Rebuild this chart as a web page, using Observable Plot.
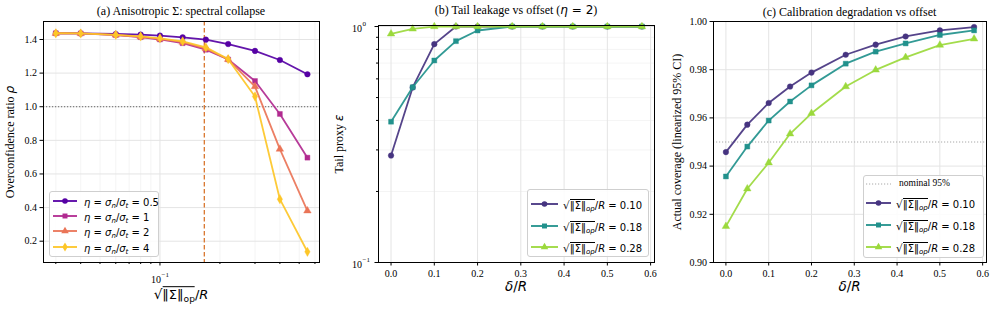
<!DOCTYPE html>
<html><head><meta charset="utf-8">
<script src="https://cdn.jsdelivr.net/npm/d3@7"></script>
<script src="https://cdn.jsdelivr.net/npm/@observablehq/plot@0.6"></script>
<style>
html,body{margin:0;padding:0;background:#fff;}
#wrap{position:relative;width:997px;height:312px;overflow:hidden;font-family:"Liberation Serif","Times New Roman",serif;color:#000;}
.panel{position:absolute;top:0;}
.t{position:absolute;transform:translate(-50%,-50%);white-space:nowrap;font-size:12px;line-height:1;}
.yl{transform:translate(-50%,-50%) rotate(-90deg);}
.m{font-family:"DejaVu Sans",sans-serif;color:#000;}
.m i{font-style:italic;}
sub{font-size:0.7em;vertical-align:-0.3em;line-height:0;}
.ov{border-top:1px solid #000;padding-top:0;}
.rad{font-size:1.05em;}
.leg{position:absolute;background:rgba(255,255,255,0.85);border:1px solid #cfcfcf;border-radius:3px;box-sizing:border-box;}
.row{position:absolute;transform:translateY(-50%);display:flex;align-items:center;white-space:nowrap;line-height:1;}
.row svg{display:block;}
</style></head>
<body><div id="wrap"></div>
<script>
// ---------- data ----------
const sigmaRatio = [0.03, 0.04, 0.06, 0.08, 0.1, 0.13, 0.17, 0.22, 0.3, 0.4, 0.55];
const etaLabels = ["0.5", "1", "2", "4"];
const rhoEta05 = [1.437, 1.436, 1.433, 1.429, 1.423, 1.413, 1.399, 1.373, 1.332, 1.278, 1.193];
const rhoEta1  = [1.437, 1.436, 1.426, 1.414, 1.400, 1.378, 1.339, 1.281, 1.153, 0.957, 0.697];
const rhoEta2  = [1.437, 1.436, 1.427, 1.416, 1.404, 1.384, 1.346, 1.282, 1.120, 0.748, 0.381];
const rhoEta4  = [1.437, 1.436, 1.428, 1.418, 1.407, 1.389, 1.353, 1.283, 1.061, 0.450, 0.137];
const criticalRatio = 0.167;
const overconfThreshold = 1.0;

const deltaR = [0, 0.05, 0.1, 0.15, 0.2, 0.28, 0.35, 0.42, 0.5, 0.58];
const sigmaLabels = ["0.10", "0.18", "0.28"];
const epsS010 = [0.284, 0.552, 0.842, 1, 1, 1, 1, 1, 1, 1];
const epsS018 = [0.395, 0.553, 0.718, 0.867, 0.962, 1, 1, 1, 1, 1];
const epsS028 = [0.931, 0.977, 1, 1, 1, 1, 1, 1, 1, 1];

const covS010 = [0.9458, 0.9572, 0.9662, 0.9730, 0.9788, 0.9862, 0.9904, 0.9938, 0.9963, 0.9977];
const covS018 = [0.9357, 0.9481, 0.9589, 0.9668, 0.9735, 0.9825, 0.9875, 0.9909, 0.9944, 0.9963];
const covS028 = [0.9150, 0.9306, 0.9414, 0.9534, 0.9619, 0.9730, 0.9799, 0.9851, 0.9902, 0.9928];
const nominalCoverage = 0.95;

// tick values
const yTicksA = [0.2, 0.4, 0.6, 0.8, 1.0, 1.2, 1.4];
const xMajorA = [0.1];
const xMinorA = [0.03, 0.04, 0.05, 0.06, 0.07, 0.08, 0.09, 0.2, 0.3, 0.4, 0.5, 0.6];
const yMajorB = [0.1, 1];
const yMajorBExp = ["\u22121", "0"];
const yMinorB = [0.2, 0.3, 0.4, 0.5, 0.6, 0.7, 0.8, 0.9];
const xTicksBC = [0, 0.1, 0.2, 0.3, 0.4, 0.5, 0.6];
const yTicksC = [0.90, 0.92, 0.94, 0.96, 0.98, 1.00];

// ---------- styles ----------
const colorsA = [0.15, 0.4, 0.65, 0.88].map(d3.interpolatePlasma);
const colorsBC = [0.15, 0.5, 0.85].map(d3.interpolateViridis);
const symA = ["circle", "square", "triangle", "diamond"];
const symBC = ["circle", "square", "triangle"];
const GRID = "#e4e4e4", GRIDMINOR = "#f1f1f1";
const baseStyle = {fontFamily: '"Liberation Serif","Times New Roman",serif', fontSize: "10px", background: "transparent", color: "#000", overflow: "visible"};

const tidy = (xs, series, labels) => xs.flatMap((x, i) => series.map((s, k) => ({x, y: s[i], s: labels[k]})));
const tableA = tidy(sigmaRatio, [rhoEta05, rhoEta1, rhoEta2, rhoEta4], etaLabels);
const tableB = tidy(deltaR, [epsS010, epsS018, epsS028], sigmaLabels);
const tableC = tidy(deltaR, [covS010, covS018, covS028], sigmaLabels);

function seriesMarks(table, labels, r) {
  return labels.flatMap(lab => {
    const d = table.filter(v => v.s === lab);
    return [
      Plot.line(d, {x: "x", y: "y", stroke: "s", strokeWidth: 1.8, strokeOpacity: 0.92}),
      Plot.dot(d, {x: "x", y: "y", fill: "s", stroke: "s", strokeWidth: 0.4, symbol: "s", r})
    ];
  });
}

const wrap = document.getElementById("wrap");
function addPanel(svg, left) {
  const div = document.createElement("div");
  div.className = "panel"; div.style.left = left + "px";
  div.appendChild(svg); wrap.appendChild(div);
}
function addText(html, x, y, cls = "", extra = "") {
  const d = document.createElement("div");
  d.className = "t " + cls; d.style.left = x + "px"; d.style.top = y + "px";
  if (extra) d.style.cssText += extra;
  d.innerHTML = html; wrap.appendChild(d);
}

// ---------- panel a ----------
const plotA = Plot.plot({
  width: 330, height: 312, marginLeft: 43, marginRight: 11, marginTop: 21, marginBottom: 50,
  style: baseStyle,
  x: {type: "log", domain: [0.02602, 0.6324], axis: null},
  y: {domain: [0.0733, 1.507], axis: null},
  color: {domain: etaLabels, range: colorsA},
  symbol: {domain: etaLabels, range: symA},
  marks: [
    Plot.ruleX(xMinorA, {stroke: GRIDMINOR, strokeWidth: 0.8}),
    Plot.ruleX(xMajorA, {stroke: GRID, strokeWidth: 1}),
    Plot.ruleY(yTicksA, {stroke: GRID, strokeWidth: 1}),
    Plot.ruleY([overconfThreshold], {stroke: "#666", strokeWidth: 1, strokeDasharray: "1.2,1.8"}),
    Plot.ruleX([criticalRatio], {stroke: "#d9772f", strokeWidth: 1.3, strokeDasharray: "4.5,2.5"}),
    ...seriesMarks(tableA, etaLabels, 2.8),
    Plot.axisY({ticks: yTicksA, tickSize: 3.5, tickPadding: 3, tickFormat: d => d.toFixed(1), label: null}),
    Plot.axisX({ticks: xMajorA, tickSize: 3.5, tickFormat: () => "", label: null}),
    Plot.axisX({ticks: xMinorA, tickSize: 2, tickFormat: () => "", label: null}),
    Plot.text(xMajorA, {x: d => d, frameAnchor: "bottom", text: () => "10", textAnchor: "end", lineAnchor: "middle", dy: 17, dx: 1, fontSize: 10}),
    Plot.text(xMajorA, {x: d => d, frameAnchor: "bottom", text: () => "\u22121", textAnchor: "start", lineAnchor: "middle", dy: 12, dx: 1.5, fontSize: 7}),
    Plot.frame({stroke: "#000", strokeWidth: 1})
  ]
});
addPanel(plotA, 0);

// ---------- panel b ----------
const plotB = Plot.plot({
  width: 330, height: 312, marginLeft: 48, marginRight: 6, marginTop: 25, marginBottom: 50,
  style: baseStyle,
  x: {domain: [-0.029, 0.609], axis: null},
  y: {type: "log", domain: [0.1, 1.01], axis: null},
  color: {domain: sigmaLabels, range: colorsBC},
  symbol: {domain: sigmaLabels, range: symBC},
  marks: [
    Plot.ruleY(yMinorB, {stroke: GRIDMINOR, strokeWidth: 0.8}),
    Plot.ruleY(yMajorB, {stroke: GRID, strokeWidth: 1}),
    Plot.ruleX(xTicksBC, {stroke: GRID, strokeWidth: 1}),
    ...seriesMarks(tableB, sigmaLabels, 2.8),
    Plot.axisX({ticks: xTicksBC, tickSize: 3.5, tickPadding: 4, tickFormat: d => d.toFixed(1), label: null}),
    Plot.axisY({ticks: yMajorB, tickSize: 3.5, tickFormat: () => "", label: null}),
    Plot.axisY({ticks: yMinorB, tickSize: 2, tickFormat: () => "", label: null}),
    Plot.text(yMajorB, {y: d => d, frameAnchor: "left", text: () => "10", textAnchor: "end", lineAnchor: "middle", dx: -16.5, dy: 2, fontSize: 10}),
    Plot.text(yMajorB, {y: d => d, frameAnchor: "left", text: (d, i) => yMajorBExp[i], textAnchor: "start", lineAnchor: "middle", dx: -16, dy: -2.5, fontSize: 7}),
    Plot.frame({stroke: "#000", strokeWidth: 1})
  ]
});
addPanel(plotB, 330);

// ---------- panel c ----------
const plotC = Plot.plot({
  width: 337, height: 312, marginLeft: 53, marginRight: 11, marginTop: 21, marginBottom: 50,
  style: baseStyle,
  x: {domain: [-0.029, 0.609], axis: null},
  y: {domain: [0.90, 1.00], axis: null},
  color: {domain: sigmaLabels, range: colorsBC},
  symbol: {domain: sigmaLabels, range: symBC},
  marks: [
    Plot.ruleY(yTicksC, {stroke: GRID, strokeWidth: 1}),
    Plot.ruleX(xTicksBC, {stroke: GRID, strokeWidth: 1}),
    Plot.ruleY([nominalCoverage], {stroke: "#a8a8a8", strokeWidth: 1, strokeDasharray: "1.2,1.8"}),
    ...seriesMarks(tableC, sigmaLabels, 2.8),
    Plot.axisX({ticks: xTicksBC, tickSize: 3.5, tickPadding: 4, tickFormat: d => d.toFixed(1), label: null}),
    Plot.axisY({ticks: yTicksC, tickSize: 3.5, tickPadding: 3, tickFormat: d => d.toFixed(2), label: null}),
    Plot.frame({stroke: "#000", strokeWidth: 1})
  ]
});
addPanel(plotC, 660);

// ---------- titles & axis labels ----------
const sqrtHTML = (italicSub) => `<span class="rad">\u221A</span><span class="ov">\u2016\u03A3\u2016<sub>${italicSub ? "<i>op</i>" : "op"}</sub></span>/<i>R</i>`;
addText("(a) Anisotropic \u03A3: spectral collapse", 181, 11);
addText('(b) Tail leakage vs offset (<span class="m"><i>\u03B7</i> = 2</span>)', 516, 10);
addText("(c) Calibration degradation vs offset", 849.5, 11.5);
addText('Overconfidence ratio <span class="m"><i>\u03C1</i></span>', 10, 142, "yl");
addText('Tail proxy <span class="m"><i>\u03B5</i></span>', 339, 144, "yl");
addText("Actual coverage (linearized 95% CI)", 677, 141.5, "yl");
addText(sqrtHTML(false), 181, 295, "m", "font-size:13px;");
addText('<i>\u03B4</i>/<i>R</i>', 516, 287, "m", "font-size:13.5px;");
addText('<i>\u03B4</i>/<i>R</i>', 849.5, 287, "m", "font-size:13.5px;");

// ---------- legends ----------
function symPath(name, r) {
  const t = {circle: d3.symbolCircle, square: d3.symbolSquare, triangle: d3.symbolTriangle, diamond: d3.symbolDiamond}[name];
  return d3.symbol(t, Math.PI * r * r)();
}
function legend(left, top, w, h, rows) {
  const box = document.createElement("div");
  box.className = "leg";
  box.style.cssText += `left:${left}px;top:${top}px;width:${w}px;height:${h}px;`;
  rows.forEach(r => {
    const row = document.createElement("div");
    row.className = "row";
    row.style.left = r.x + "px"; row.style.top = r.y + "px";
    const sw = r.sw;
    let svg = `<svg width="${sw}" height="12"><line x1="0" y1="6" x2="${sw}" y2="6" stroke="${r.color}" stroke-width="${r.lw || 1.8}" ${r.dash ? `stroke-dasharray="${r.dash}"` : ""}/>`;
    if (r.sym) svg += `<path d="${symPath(r.sym, 2.8)}" transform="translate(${sw / 2},6)" fill="${r.color}"/>`;
    svg += `</svg>`;
    row.innerHTML = svg + `<span style="margin-left:${r.gap}px;${r.style || ""}">${r.html}</span>`;
    box.appendChild(row);
  });
  wrap.appendChild(box);
}
legend(49, 191, 110, 66, etaLabels.map((lab, k) => ({
  x: 3, y: [9, 24.3, 39.3, 54.7][k], sw: 24, gap: 7, color: colorsA[k], sym: symA[k],
  html: `<span class="m" style="font-size:10px"><i>\u03B7</i> = <i>\u03C3<sub>n</sub></i>/<i>\u03C3<sub>t</sub></i> = ${lab}</span>`
})));
legend(527, 189, 122, 68, sigmaLabels.map((lab, k) => ({
  x: 3, y: [14.3, 36, 57][k], sw: 27, gap: 5, color: colorsBC[k], sym: symBC[k],
  html: `<span class="m" style="font-size:10px">${sqrtHTML(true)} = ${lab}</span>`
})));
legend(863, 175, 121, 83, [
  {x: 2, y: 7.7, sw: 25, gap: 8, color: "#a8a8a8", lw: 1, dash: "1.2,1.8", html: "nominal 95%", style: "font-size:9.5px;"},
  ...sigmaLabels.map((lab, k) => ({
    x: 2, y: [27.3, 49, 70.7][k], sw: 25, gap: 5, color: colorsBC[k], sym: symBC[k],
    html: `<span class="m" style="font-size:10px">${sqrtHTML(true)} = ${lab}</span>`
  }))
]);
</script>
</body></html>
